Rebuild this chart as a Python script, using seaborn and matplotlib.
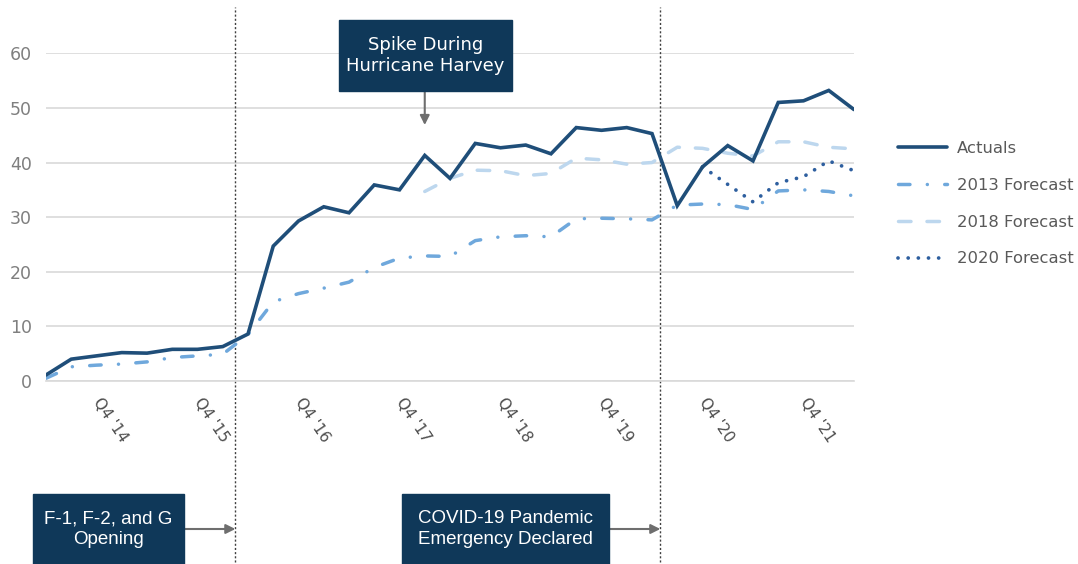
import numpy as np
import pandas as pd
import matplotlib
matplotlib.use("Agg")
import matplotlib.pyplot as plt
import seaborn as sns
from matplotlib.patches import Rectangle

# quarterly series, Q2 '14 .. Q2 '22
quarters = ["Q2 '14", "Q3 '14", "Q4 '14", "Q1 '15", "Q2 '15", "Q3 '15", "Q4 '15", "Q1 '16",
            "Q2 '16", "Q3 '16", "Q4 '16", "Q1 '17", "Q2 '17", "Q3 '17", "Q4 '17", "Q1 '18",
            "Q2 '18", "Q3 '18", "Q4 '18", "Q1 '19", "Q2 '19", "Q3 '19", "Q4 '19", "Q1 '20",
            "Q2 '20", "Q3 '20", "Q4 '20", "Q1 '21", "Q2 '21", "Q3 '21", "Q4 '21", "Q1 '22",
            "Q2 '22"]
actuals = [1.1, 4.0, 4.6, 5.2, 5.1, 5.8, 5.8, 6.3, 8.6, 24.7, 29.3, 31.9, 30.8, 35.9, 35.0, 41.3,
           37.1, 43.5, 42.7, 43.2, 41.6, 46.4, 45.9, 46.4, 45.3, 32.1, 39.2, 43.1, 40.3, 51.0,
           51.3, 53.2, 49.7]
fc_2013 = [0.5, 2.6, 2.9, 3.1, 3.5, 4.3, 4.6, 4.9, 8.5, 14.5, 16.0, 17.0, 18.1, 20.8, 22.5, 22.9,
           22.8, 25.7, 26.4, 26.6, 26.4, 29.7, 29.8, 29.7, 29.5, 32.2, 32.4, 32.3, 31.4, 34.8,
           35.0, 34.7, 33.9]
fc_2018_start = 15
fc_2018 = [34.7, 37.1, 38.6, 38.5, 37.6, 38.0, 40.8, 40.5, 39.7, 40.0, 42.8, 42.6, 41.7, 41.2,
           43.8, 43.8, 42.8, 42.5]
fc_2020_start = 26
fc_2020 = [39.2, 36.0, 32.8, 36.3, 37.4, 40.3, 38.5]
tick_labels = ["Q4 '14", "Q4 '15", "Q4 '16", "Q4 '17", "Q4 '18", "Q4 '19", "Q4 '20", "Q4 '21"]
events = [7.5, 24.33]
event_labels = ["F-1, F-2, and G\nOpening", "COVID-19 Pandemic\nEmergency Declared"]
spike_at = 15
spike_label = "Spike During\nHurricane Harvey"

W, H = 1078, 564
sns.set_style("white")
plt.rcParams['font.family'] = ['DejaVu Sans']

fig = plt.figure(figsize=(W / 100, H / 100), dpi=100)
ax = fig.add_axes([46 / W, 1 - 381 / H, 808 / W, (381 - 53.3) / H])

idx = np.arange(len(quarters))
df = pd.DataFrame({"q": idx, "actuals": actuals, "fc2013": fc_2013})
df18 = pd.DataFrame({"q": idx[fc_2018_start:fc_2018_start + len(fc_2018)], "v": fc_2018})
df20 = pd.DataFrame({"q": idx[fc_2020_start:fc_2020_start + len(fc_2020)], "v": fc_2020})

c_act = "#1f4e79"
c_13 = "#6fa8dc"
c_18 = "#bdd7ee"
c_20 = "#2e5f9f"
c_box = "#0f3859"

sns.lineplot(data=df, x="q", y="fc2013", ax=ax, color=c_13, linewidth=2.5,
             linestyle=(0, (3.3, 5.0, 0.01, 5.0)), dash_capstyle="round", label="2013 Forecast", zorder=3)
sns.lineplot(data=df18, x="q", y="v", ax=ax, color=c_18, linewidth=2.5,
             linestyle=(0, (3.6, 4.6)), dash_capstyle="round", label="2018 Forecast", zorder=3)
sns.lineplot(data=df20, x="q", y="v", ax=ax, color=c_20, linewidth=2.7,
             linestyle=(0, (0.01, 2.7)), dash_capstyle="round", label="2020 Forecast", zorder=4)
sns.lineplot(data=df, x="q", y="actuals", ax=ax, color=c_act, linewidth=2.6,
             solid_capstyle="round", solid_joinstyle="miter", label="Actuals", zorder=5)

ax.set_xlim(0, len(quarters) - 1)
ax.set_ylim(0, 60)
ax.set_yticks(np.arange(0, 61, 10))
ax.set_xticks(idx)
ax.set_xticklabels([q if q in tick_labels else "" for q in quarters], rotation=-56,
                   ha="left", va="center", rotation_mode="anchor", fontsize=11, color="#4d4d4d")
ax.tick_params(axis="x", length=4, width=1, color="#d9d9d9", pad=9)
ax.tick_params(axis="y", length=0, pad=10, labelsize=12.5, labelcolor="#7f7f7f")
ax.set_xlabel("")
ax.set_ylabel("")
ax.grid(axis="y", color="#d9d9d9", linewidth=1.2)
for s in ["top", "right", "left"]:
    ax.spines[s].set_visible(False)
ax.spines["bottom"].set_color("#d9d9d9")
ax.spines["bottom"].set_linewidth(1.2)

# event lines running past the plot area
for ev in events:
    ax.axvline(ev, ymin=(381 - 562) / 327.7, ymax=(381 - 7) / 327.7, clip_on=False,
               color="#404040", linewidth=1, linestyle=(0, (1.5, 1.5)), zorder=2)

# legend in the requested order
handles, labels = ax.get_legend_handles_labels()
order = [labels.index(k) for k in ["Actuals", "2013 Forecast", "2018 Forecast", "2020 Forecast"]]
ax.legend([handles[i] for i in order], [labels[i] for i in order], loc="upper left",
          bbox_to_anchor=(898 / W, 1 - 141 / H), bbox_transform=fig.transFigure, frameon=False,
          fontsize=11.8, handlelength=3.0, handletextpad=0.6, labelspacing=1.33,
          borderpad=0, borderaxespad=0, labelcolor="#595959")


def box(x0, y0, x1, y1, text, **kw):
    fig.patches.append(Rectangle((x0 / W, 1 - y1 / H), (x1 - x0) / W, (y1 - y0) / H,
                                 transform=fig.transFigure, color=c_box, zorder=10))
    fig.text((x0 + x1) / 2 / W, 1 - (y0 + y1) / 2 / H, text, ha="center", va="center",
             color="white", zorder=11, **kw)


arrow = dict(arrowstyle="-|>", color="#6e6e6e", lw=1.5, mutation_scale=14, shrinkA=0, shrinkB=0)

box(339, 20, 512, 91, spike_label, fontsize=13, linespacing=1.2)
ax.annotate("", xy=(spike_at, (381 - 125) / 5.462), xytext=(spike_at, (381 - 91) / 5.462),
            arrowprops=arrow, annotation_clip=False)

box_edges = [(33, 184), (402, 609)]
for ev, lab, (bx0, bx1) in zip(events, event_labels, box_edges):
    box(bx0, 494, bx1, 564, lab, fontsize=13.5, family="Liberation Sans", linespacing=1.3)
    ax.annotate("", xy=(ev, 1 - 529 / H), xycoords=("data", "figure fraction"),
                xytext=(bx1 / W, 1 - 529 / H), textcoords="figure fraction",
                arrowprops=arrow, annotation_clip=False)

fig.savefig("out.png", dpi=100)
